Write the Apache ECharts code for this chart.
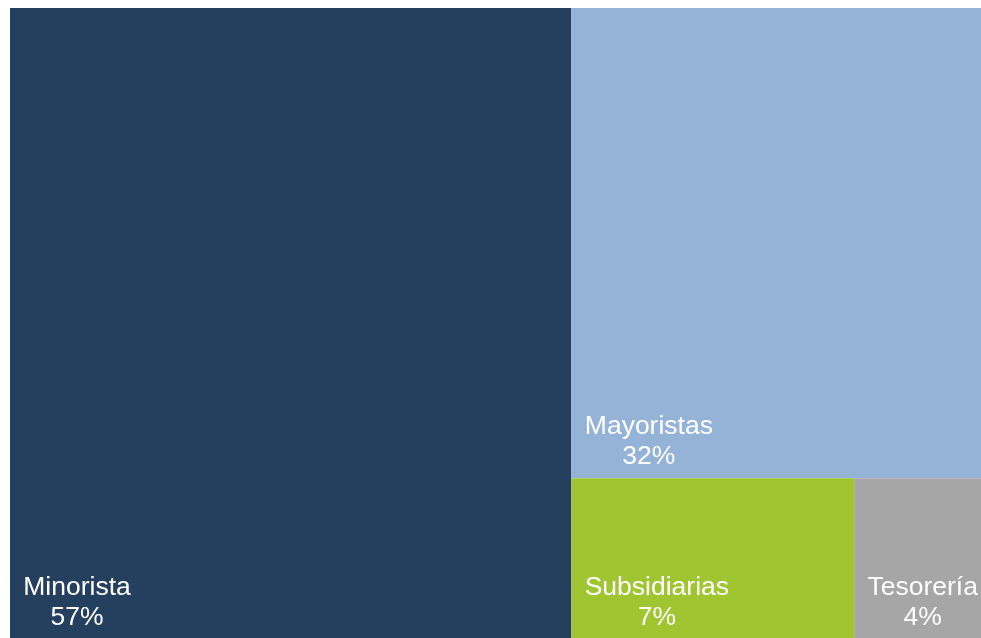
<!DOCTYPE html>
<html>
<head>
<meta charset="utf-8">
<style>
  html, body { margin: 0; padding: 0; background: #fff; }
  #chart { width: 981px; height: 638px; }
</style>
<script src="https://cdn.jsdelivr.net/npm/echarts@6/dist/echarts.min.js"></script>
</head>
<body>
<div id="chart"></div>
<script>
// Segment shares (percent)
const segments = ['Minorista', 'Mayoristas', 'Subsidiarias', 'Tesorería'];
const shares = [57.4, 31.7, 7.4, 3.5];
const colors = ['#253f5f', '#95b3d7', '#9fc531', '#a6a6a6'];

const FONT_SIZE = 26.5;
const LINE_H = 30;
const FONT = FONT_SIZE + 'px "Liberation Sans", Arial, sans-serif';
const INSET_X = 13;
const INSET_Y = 7;

const chart = echarts.init(document.getElementById('chart'));

function buildData(labelFor) {
    return segments.map(function (name, i) {
        const item = { name: name, value: shares[i], itemStyle: { color: colors[i] } };
        if (labelFor) item.label = labelFor(name);
        return item;
    });
}

const seriesBase = {
    type: 'treemap',
    left: 10,
    top: 8,
    width: 978,
    height: 632,
    roam: false,
    nodeClick: false,
    breadcrumb: { show: false },
    itemStyle: { borderWidth: 0, gapWidth: 0 },
    label: {
        show: true,
        position: 'insideTopLeft',
        overflow: 'none',
        color: '#fff',
        fontFamily: '"Liberation Sans", Arial, sans-serif',
        fontSize: FONT_SIZE,
        lineHeight: LINE_H,
        formatter: function (p) {
            return '{n|' + p.name + '}\n{v|' + Math.round(p.value) + '%}';
        },
        rich: {
            n: { align: 'center', color: '#fff', fontSize: FONT_SIZE, lineHeight: LINE_H },
            v: { align: 'center', color: '#fff', fontSize: FONT_SIZE, lineHeight: LINE_H }
        }
    }
};

chart.setOption({
    animation: false,
    series: [Object.assign({}, seriesBase, { data: buildData(null) })]
});

// Label box in treemap fills the whole rect: push text to bottom-left via padding
const ctx = document.createElement('canvas').getContext('2d');
ctx.font = FONT;
const tree = chart.getModel().getSeriesByIndex(0).getData().tree;
const rects = {};
tree.root.children.forEach(function (node) {
    rects[node.name] = node.getLayout();
});

chart.setOption({
    series: [Object.assign({}, seriesBase, {
        data: buildData(function (name) {
            const r = rects[name];
            const nameW = Math.ceil(ctx.measureText(name).width) + 4;
            const top = Math.max(0, r.height - 2 * LINE_H - INSET_Y);
            const left = INSET_X - 2;
            const right = Math.max(0, r.width - left - nameW);
            return { padding: [top, right, 0, left] };
        })
    })]
});
</script>
</body>
</html>
